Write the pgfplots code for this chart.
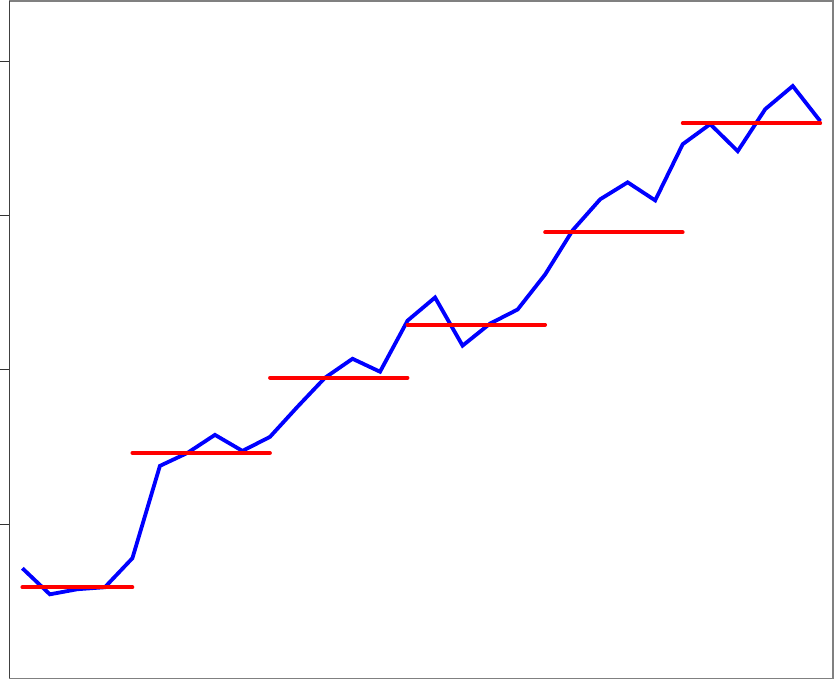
\documentclass[border=0pt]{standalone}
\usepackage{pgfplots}
\pgfplotsset{compat=1.18}
\begin{document}
\begin{tikzpicture}
\begin{axis}[
  scale only axis,
  width=823pt, height=677pt,
  xmin=-0.47, xmax=29.47,
  ymin=0, ymax=4.39,
  xtick=\empty,
  ytick={1,2,3,4},
  ytick pos=left,
  yticklabels={},
  yticklabel style={overlay},
  tick align=outside,
  major tick length=9pt,
  ytick style={black!80, line width=0.8pt},
  axis line style={black!50, line width=1.6pt},
  clip=false,
]
\addplot[blue, line width=3.8pt, line join=miter] coordinates {
(0,0.714) (1,0.545) (2,0.578) (3,0.591) (4,0.779) (5,1.377) (6,1.461) (7,1.578) (8,1.474) (9,1.565)
(10,1.760) (11,1.948) (12,2.071) (13,1.987) (14,2.318) (15,2.468) (16,2.156) (17,2.299) (18,2.390) (19,2.617)
(20,2.903) (21,3.104) (22,3.214) (23,3.097) (24,3.461) (25,3.591) (26,3.416) (27,3.688) (28,3.838) (29,3.610)
};
\addplot[red, line width=3.8pt, line cap=round] coordinates {(0,0.591) (4,0.591)};
\addplot[red, line width=3.8pt, line cap=round] coordinates {(4,1.461) (9,1.461)};
\addplot[red, line width=3.8pt, line cap=round] coordinates {(9,1.948) (14,1.948)};
\addplot[red, line width=3.8pt, line cap=round] coordinates {(14,2.292) (19,2.292)};
\addplot[red, line width=3.8pt, line cap=round] coordinates {(19,2.890) (24,2.890)};
\addplot[red, line width=3.8pt, line cap=round] coordinates {(24,3.597) (29,3.597)};
\draw[black!75, line width=1.6pt] (rel axis cs:0,0) -- (rel axis cs:0,1);
\end{axis}
\end{tikzpicture}
\end{document}
